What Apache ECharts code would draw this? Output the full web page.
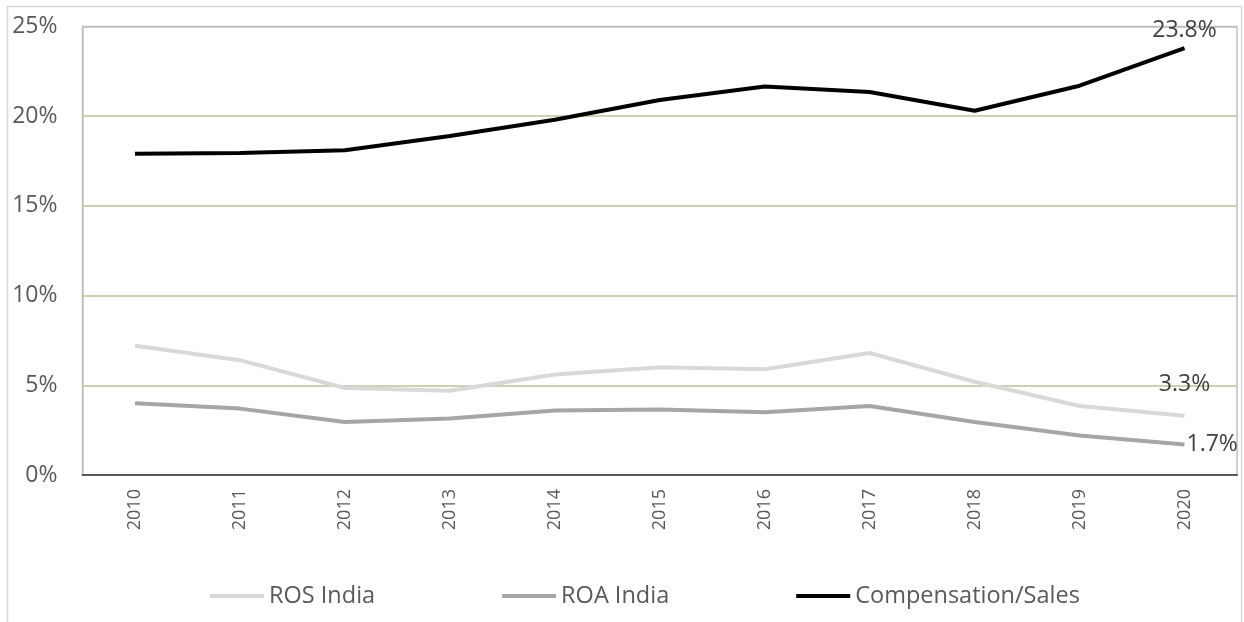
<!DOCTYPE html>
<html>
<head>
<meta charset="utf-8">
<script src="https://cdn.jsdelivr.net/npm/echarts@6/dist/echarts.min.js"></script>
<style>
  html, body { margin: 0; padding: 0; background: #fff; }
  #chart { width: 1244px; height: 622px; }
</style>
</head>
<body>
<div id="chart"></div>
<script>
// Years on the category axis
const years = ['2010', '2011', '2012', '2013', '2014', '2015', '2016', '2017', '2018', '2019', '2020'];

// Percent values per year
const rosIndia = [7.2, 6.4, 4.85, 4.7, 5.6, 6.0, 5.9, 6.8, 5.2, 3.85, 3.3];
const roaIndia = [4.0, 3.7, 2.95, 3.15, 3.6, 3.65, 3.5, 3.85, 2.95, 2.2, 1.7];
const compensationSales = [17.9, 17.95, 18.1, 18.9, 19.8, 20.9, 21.65, 21.35, 20.3, 21.7, 23.8];

// Y-axis range and step
const yMin = 0, yMax = 25, yStep = 5;

const FONT = '"Open Sans", sans-serif';
const lastIdx = years.length - 1;

// Value label only on the final year
function endLabel(pos, dist) {
  return {
    show: true,
    position: pos,
    distance: dist,
    fontFamily: FONT,
    fontSize: 23,
    color: '#404040',
    formatter: p => p.dataIndex === lastIdx ? p.value.toFixed(1) + '%' : ''
  };
}

function lineSeries(name, data, color, labelPos, labelDist) {
  return {
    name, type: 'line', data,
    symbol: 'circle', symbolSize: 0, showSymbol: true,
    color,
    itemStyle: { color },
    lineStyle: { width: 4, color },
    label: endLabel(labelPos, labelDist)
  };
}

const chart = echarts.init(document.getElementById('chart'), null, { renderer: 'canvas' });

chart.setOption({
  backgroundColor: '#ffffff',
  animation: false,
  graphic: [{
    type: 'rect',
    shape: { x: 7.5, y: 6.5, width: 1234, height: 640 },
    style: { fill: 'none', stroke: '#d9d9d9', lineWidth: 1.5 },
    z: -1
  }],
  grid: {
    left: 82.5, right: 7, top: 26.5, bottom: 147,
    show: true, borderColor: '#c0c0c0', borderWidth: 1.5, backgroundColor: 'transparent'
  },
  legend: {
    bottom: 9,
    left: 205,
    itemGap: 127,
    itemWidth: 54,
    itemHeight: 4,
    icon: 'rect',
    textStyle: { fontFamily: FONT, fontSize: 23.5, color: '#595959' },
    data: ['ROS India', 'ROA India', 'Compensation/Sales']
  },
  xAxis: {
    type: 'category',
    data: years,
    boundaryGap: true,
    axisLine: { lineStyle: { color: '#595959', width: 2 } },
    axisTick: { show: false },
    axisLabel: {
      rotate: 90,
      margin: 14,
      fontFamily: FONT,
      fontSize: 18,
      color: '#595959'
    }
  },
  yAxis: {
    type: 'value',
    min: yMin, max: yMax, interval: yStep,
    axisLine: { show: true, lineStyle: { color: '#c0c0c0', width: 1.5 } },
    axisTick: { show: false },
    axisLabel: {
      formatter: v => v + '%',
      fontFamily: FONT,
      fontSize: 23,
      color: '#595959',
      margin: 25
    },
    splitLine: {
      show: true,
      lineStyle: {
        color: ['#595959', '#c4bd97', '#c4bd97', '#c4bd97', '#c4bd97', '#c0c0c0'],
        width: 1.5
      }
    }
  },
  series: [
    lineSeries('ROS India', rosIndia, '#d9d9d9', 'top', 20),
    lineSeries('ROA India', roaIndia, '#a6a6a6', 'right', 2),
    lineSeries('Compensation/Sales', compensationSales, '#000000', 'top', 6)
  ]
});
</script>
</body>
</html>
